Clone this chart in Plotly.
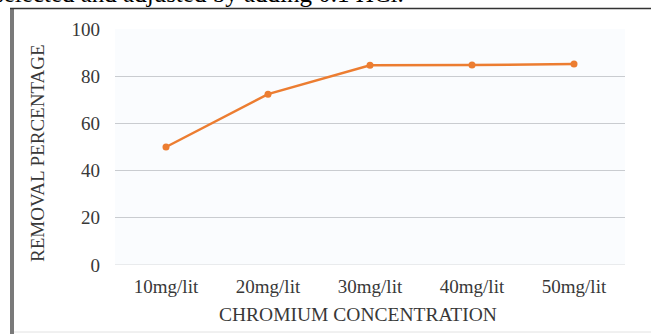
import plotly.graph_objects as go

# Chromium removal data
concentrations = ["10mg/lit", "20mg/lit", "30mg/lit", "40mg/lit", "50mg/lit"]
removal_pct = [50.0, 72.4, 84.6, 84.7, 85.2]
y_ticks = [0, 20, 40, 60, 80, 100]

W, H = 651, 334
L, R, T, B = 115, 26, 29, 69
pw, ph = W - L - R, H - T - B

def px(xp):
    return (xp - L) / pw

def py(yp):
    return (H - B - yp) / ph

serif = "Liberation Serif, Times New Roman, serif"
ink = "#383838"

fig = go.Figure()
fig.add_trace(go.Scatter(
    x=concentrations, y=removal_pct, mode="lines+markers",
    line=dict(color="#ec7d31", width=2.5),
    marker=dict(color="#ec7d31", size=7),
    showlegend=False,
))

fig.update_layout(
    width=W, height=H,
    margin=dict(l=L, r=R, t=T, b=B),
    paper_bgcolor="white", plot_bgcolor="#fafcfe",
    font=dict(family=serif, color=ink),
    xaxis=dict(
        range=[-0.5, len(concentrations) - 0.5],
        showgrid=False, zeroline=False, showline=False, ticks="",
        tickfont=dict(size=19, color=ink), ticklabelstandoff=8,
        fixedrange=True,
    ),
    yaxis=dict(
        range=[0, 100], tickvals=y_ticks, showgrid=True, gridcolor="#c9ccd0",
        gridwidth=1, zeroline=False, showline=False, ticks="",
        tickfont=dict(size=19, color=ink), ticklabelstandoff=14,
        fixedrange=True,
    ),
    annotations=[
        dict(text="CHROMIUM CONCENTRATION", xref="paper", yref="paper",
             x=px(358), y=py(314), xanchor="center", yanchor="middle",
             showarrow=False, font=dict(size=19.5, color=ink, family=serif)),
        dict(text="REMOVAL PERCENTAGE", xref="paper", yref="paper",
             x=px(37), y=py(153), xanchor="center", yanchor="middle",
             textangle=-90, showarrow=False,
             font=dict(size=19, color=ink, family=serif)),
        dict(text="selected and adjusted by adding 0.1 HCl.", xref="paper", yref="paper",
             x=px(-8), y=py(9), xanchor="left", yanchor="bottom",
             showarrow=False, font=dict(size=25, color="black", family=serif)),
    ],
    shapes=[
        # frame around the chart
        dict(type="line", xref="paper", yref="paper", x0=px(12), x1=px(12),
             y0=py(8), y1=py(334), line=dict(color="#7a7a7a", width=4)),
        dict(type="line", xref="paper", yref="paper", x0=px(10), x1=px(651),
             y0=py(8.5), y1=py(8.5), line=dict(color="#333333", width=1.5)),
        dict(type="line", xref="paper", yref="paper", x0=px(14), x1=px(651),
             y0=py(332), y1=py(332), line=dict(color="#e2e2e2", width=1)),
        # baseline gridline at zero
        dict(type="line", xref="paper", yref="y", x0=0, x1=1, y0=0, y1=0,
             line=dict(color="#d8dadc", width=1), layer="below"),
    ],
)

fig.write_html("out.html")
